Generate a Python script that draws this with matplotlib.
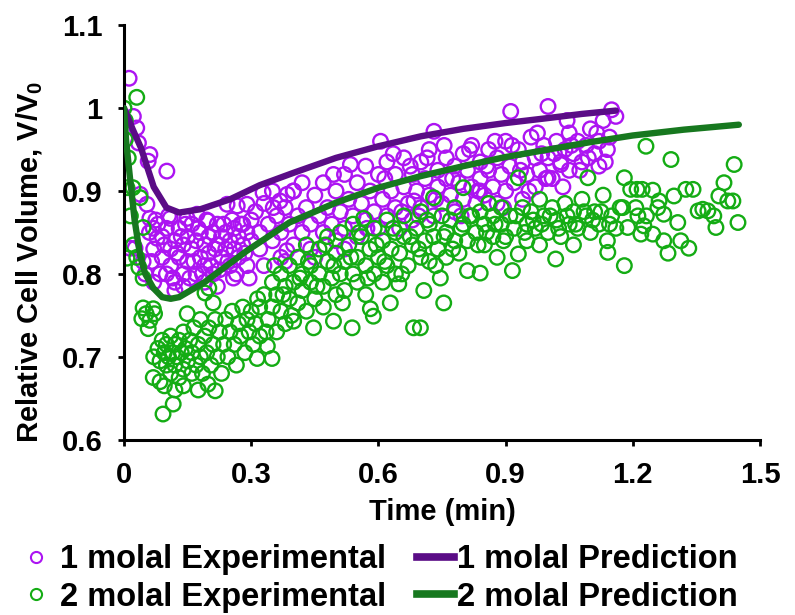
import matplotlib
matplotlib.use("Agg")
import matplotlib.pyplot as plt
from matplotlib.lines import Line2D

plt.rcParams['font.family'] = ['Liberation Sans', 'DejaVu Sans']
plt.rcParams['font.weight'] = 'bold'
plt.rcParams['mathtext.fontset'] = 'custom'
plt.rcParams['mathtext.rm'] = 'Liberation Sans:bold'
plt.rcParams['mathtext.bf'] = 'Liberation Sans:bold'
plt.rcParams['mathtext.default'] = 'bf'

# ---------------- data ----------------
pred1_t = [0.0, 0.01, 0.02, 0.04, 0.07, 0.10, 0.13, 0.18, 0.25, 0.32, 0.40, 0.50, 0.60, 0.70, 0.80, 0.90, 1.00, 1.08, 1.16]
pred1_v = [1.0, 0.988, 0.975, 0.952, 0.905, 0.880, 0.874, 0.878, 0.890, 0.907, 0.922, 0.940, 0.954, 0.966, 0.975, 0.982, 0.988, 0.993, 0.997]

pred2_t = [0.0, 0.005, 0.014, 0.025, 0.038, 0.05, 0.069, 0.09, 0.11, 0.13, 0.19, 0.29, 0.39, 0.50, 0.60, 0.70, 0.80, 0.90, 1.00, 1.10, 1.20, 1.32, 1.45]
pred2_v = [1.0, 0.96, 0.916, 0.865, 0.822, 0.800, 0.783, 0.772, 0.770, 0.772, 0.790, 0.828, 0.862, 0.886, 0.904, 0.918, 0.930, 0.941, 0.950, 0.959, 0.967, 0.974, 0.980]

exp1_t = [0.012, 0.022, 0.030, 0.034, 0.061, 0.057, 0.101, 0.038, 0.054, 0.061, 0.026, 0.069, 0.078, 0.109, 0.149, 0.172, 0.198, 0.243, 0.267, 0.290, 0.328, 0.385, 0.399, 0.368, 0.352, 0.014, 0.045,
          0.06, 0.07, 0.08, 0.09, 0.09, 0.10, 0.10, 0.11, 0.11, 0.12, 0.12, 0.13, 0.13, 0.14, 0.14, 0.15, 0.15, 0.16, 0.16, 0.17, 0.17, 0.18, 0.18, 0.19, 0.19, 0.20, 0.20, 0.21, 0.21, 0.22, 0.22, 0.23, 0.23, 0.24, 0.24, 0.25, 0.25, 0.26, 0.26, 0.27, 0.27, 0.28, 0.28, 0.29, 0.29, 0.30, 0.30,
          0.05, 0.07, 0.12, 0.14, 0.19, 0.22, 0.258,
          0.065, 0.075, 0.085, 0.095, 0.105, 0.115, 0.125, 0.135, 0.145, 0.155, 0.165, 0.175, 0.185, 0.195, 0.205, 0.215, 0.225, 0.235, 0.245, 0.255, 0.265, 0.275, 0.285, 0.295,
          0.31, 0.32, 0.32, 0.33, 0.34, 0.35, 0.35, 0.36, 0.37, 0.37, 0.38, 0.39, 0.40, 0.40, 0.41, 0.42, 0.42, 0.43, 0.44, 0.44, 0.45, 0.46, 0.47, 0.47, 0.48, 0.49, 0.50, 0.50, 0.51, 0.52, 0.52, 0.53, 0.54, 0.55, 0.55, 0.56, 0.57, 0.57, 0.58, 0.59, 0.60, 0.60,
          0.33, 0.38, 0.45, 0.52, 0.384, 0.534, 0.494, 0.573,
          0.61, 0.62, 0.62, 0.63, 0.64, 0.64, 0.65, 0.66, 0.66, 0.67, 0.68, 0.68, 0.69, 0.70, 0.70, 0.71, 0.72, 0.72, 0.73, 0.74, 0.74, 0.75, 0.76, 0.76, 0.77, 0.78, 0.78, 0.79, 0.80, 0.80, 0.81, 0.82, 0.82, 0.83, 0.84, 0.84, 0.85, 0.86, 0.86, 0.87, 0.88, 0.88, 0.89, 0.90, 0.90,
          0.731, 0.912, 0.605, 0.684, 0.84,
          0.91, 0.92, 0.93, 0.94, 0.94, 0.95, 0.96, 0.97, 0.97, 0.98, 0.99, 1.00, 1.00, 1.01, 1.02, 1.03, 1.04, 1.05, 1.05, 1.06, 1.07, 1.08, 1.09, 1.10, 1.11, 1.12, 1.13, 1.14, 1.15, 1.16, 1.12, 1.0, 1.03,
          0.615, 0.635, 0.655, 0.675, 0.695, 0.715, 0.735, 0.755, 0.775, 0.795, 0.815, 0.835, 0.855, 0.875, 0.895, 0.915, 0.935, 0.955, 0.975, 0.995, 1.015, 1.035, 1.055, 1.075, 1.095, 1.115, 1.135, 1.145, 0.985, 1.045]
exp1_v = [1.036, 0.990, 0.976, 0.958, 0.944, 0.936, 0.924, 0.896, 0.884, 0.867, 0.831, 0.855, 0.843, 0.867, 0.867, 0.872, 0.864, 0.884, 0.882, 0.884, 0.898, 0.896, 0.900, 0.888, 0.880, 0.831, 0.815,
          0.85, 0.83, 0.86, 0.82, 0.845, 0.80, 0.855, 0.83, 0.81, 0.84, 0.79, 0.82, 0.855, 0.80, 0.835, 0.845, 0.815, 0.83, 0.86, 0.80, 0.84, 0.82, 0.85, 0.835, 0.81, 0.845, 0.825, 0.85, 0.80, 0.835, 0.86, 0.82, 0.845, 0.83, 0.85, 0.81, 0.84, 0.855, 0.83, 0.845, 0.82, 0.86, 0.835, 0.85, 0.81, 0.84, 0.865,
          0.80, 0.79, 0.78, 0.785, 0.79, 0.785, 0.795,
          0.815, 0.865, 0.80, 0.835, 0.87, 0.795, 0.825, 0.845, 0.86, 0.795, 0.815, 0.855, 0.80, 0.865, 0.81, 0.83, 0.805, 0.86, 0.815, 0.865, 0.80, 0.86, 0.825, 0.795,
          0.875, 0.85, 0.83, 0.885, 0.86, 0.84, 0.90, 0.87, 0.85, 0.82, 0.88, 0.86, 0.90, 0.835, 0.87, 0.85, 0.91, 0.88, 0.86, 0.83, 0.895, 0.87, 0.85, 0.91, 0.88, 0.86, 0.90, 0.84, 0.875, 0.92, 0.855, 0.89, 0.87, 0.91, 0.845, 0.885, 0.865, 0.93, 0.90, 0.875, 0.92, 0.855,
          0.81, 0.815, 0.82, 0.83, 0.828, 0.932, 0.92, 0.855,
          0.89, 0.87, 0.935, 0.90, 0.88, 0.92, 0.855, 0.905, 0.94, 0.885, 0.92, 0.865, 0.90, 0.935, 0.88, 0.915, 0.895, 0.95, 0.87, 0.925, 0.905, 0.885, 0.94, 0.915, 0.895, 0.93, 0.875, 0.91, 0.945, 0.89, 0.925, 0.905, 0.955, 0.885, 0.935, 0.915, 0.895, 0.95, 0.925, 0.905, 0.94, 0.885, 0.92, 0.96, 0.90,
          0.972, 0.996, 0.96, 0.888, 0.90,
          0.93, 0.91, 0.95, 0.89, 0.935, 0.92, 0.965, 0.94, 0.905, 0.925, 0.955, 0.94, 1.002, 0.915, 0.96, 0.935, 0.95, 0.97, 0.925, 0.945, 0.96, 0.935, 0.955, 0.975, 0.945, 0.96, 0.985, 0.95, 0.998, 0.99, 0.93, 0.916, 0.932,
          0.915, 0.945, 0.875, 0.93, 0.87, 0.94, 0.89, 0.955, 0.915, 0.87, 0.95, 0.90, 0.93, 0.96, 0.88, 0.955, 0.925, 0.90, 0.97, 0.915, 0.945, 0.905, 0.955, 0.925, 0.94, 0.97, 0.935, 0.965, 0.945, 0.985]

exp2_t = [0.000, 0.030, 0.003, 0.003, 0.010, 0.007, 0.021, 0.038, 0.045, 0.007, 0.030, 0.035, 0.045, 0.022, 0.015,
          0.045, 0.069, 0.042, 0.061, 0.057, 0.072, 0.052,
          0.069, 0.092, 0.116, 0.215, 0.198,
          0.07, 0.08, 0.085, 0.09, 0.095, 0.10, 0.10, 0.105, 0.11, 0.11, 0.115, 0.12, 0.12, 0.125, 0.13, 0.13, 0.135, 0.14, 0.14, 0.145, 0.15, 0.155, 0.16, 0.16, 0.165, 0.17, 0.175, 0.18, 0.18, 0.185, 0.19, 0.195, 0.20, 0.205, 0.21, 0.215, 0.22, 0.225, 0.23, 0.235, 0.24, 0.245, 0.25, 0.255, 0.26, 0.265, 0.27, 0.275, 0.28, 0.285, 0.29, 0.295, 0.30, 0.305,
          0.314, 0.349, 0.338, 0.149, 0.191, 0.21, 0.085, 0.095, 0.14, 0.12, 0.175, 0.20,
          0.31, 0.32, 0.32, 0.33, 0.34, 0.35, 0.35, 0.36, 0.36, 0.37, 0.37, 0.38, 0.38, 0.39, 0.39, 0.40, 0.40, 0.41, 0.41, 0.42, 0.42, 0.43, 0.43, 0.44, 0.44, 0.45, 0.447, 0.46, 0.46, 0.47, 0.47, 0.48, 0.48, 0.49, 0.494, 0.50, 0.50,
          0.51, 0.51, 0.52, 0.52, 0.53, 0.538, 0.54, 0.54, 0.55, 0.55, 0.56, 0.565, 0.57, 0.57, 0.58, 0.581, 0.588, 0.59, 0.59, 0.60, 0.61, 0.61, 0.62, 0.62, 0.628, 0.63, 0.64, 0.64, 0.648, 0.65, 0.66, 0.66, 0.67, 0.68, 0.683, 0.69, 0.699, 0.70, 0.70,
          0.707, 0.71, 0.72, 0.72, 0.73, 0.73, 0.74, 0.746, 0.75, 0.754, 0.76, 0.76, 0.77, 0.78, 0.78, 0.79, 0.80, 0.80, 0.81, 0.81, 0.82, 0.83, 0.84, 0.84, 0.85, 0.85, 0.86, 0.87, 0.87, 0.88, 0.89, 0.89, 0.90,
          0.91, 0.916, 0.92, 0.93, 0.93, 0.94, 0.95, 0.95, 0.96, 0.97, 0.98, 0.98, 0.99, 1.00, 1.01, 1.018, 1.02, 1.03, 1.04, 1.05, 1.06, 1.06, 1.07, 1.08, 1.09, 1.094, 1.10, 1.11, 1.12, 1.13, 1.14, 1.141, 1.15, 1.16, 1.17, 1.18, 1.18,
          1.231, 1.29, 1.439, 1.415, 1.195, 1.21, 1.222, 1.247, 1.297, 1.325, 1.342, 1.403, 1.424, 1.436, 1.262, 1.259, 1.207, 1.176, 1.273, 1.354, 1.365, 1.377, 1.391, 1.212, 1.232, 1.306, 1.448, 1.188, 1.226, 1.219, 1.247, 1.396, 1.273, 1.313, 1.332, 1.283,
          0.315, 0.335, 0.355, 0.375, 0.395, 0.415, 0.435, 0.455, 0.475, 0.495, 0.515, 0.535, 0.555, 0.575, 0.595, 0.615, 0.635, 0.655, 0.675, 0.695, 0.715, 0.735, 0.755, 0.775, 0.795, 0.815, 0.835, 0.855, 0.875, 0.895, 0.925, 0.945, 0.965, 0.985, 1.005, 1.025, 1.045, 1.065, 1.085, 1.105, 1.125, 1.145]
exp2_v = [1.000, 1.013, 0.985, 0.962, 0.940, 0.904, 0.904, 0.892, 0.856, 0.819, 0.820, 0.808, 0.795, 0.835, 0.870,
          0.759, 0.758, 0.746, 0.744, 0.734, 0.752, 0.752,
          0.675, 0.631, 0.643, 0.659, 0.667,
          0.70, 0.71, 0.695, 0.72, 0.705, 0.69, 0.715, 0.70, 0.68, 0.725, 0.705, 0.69, 0.715, 0.70, 0.675, 0.72, 0.705, 0.685, 0.73, 0.71, 0.695, 0.72, 0.68, 0.705, 0.735, 0.69, 0.715, 0.70, 0.745, 0.68, 0.725, 0.705, 0.735, 0.69, 0.715, 0.745, 0.70, 0.73, 0.68, 0.715, 0.745, 0.70, 0.73, 0.755, 0.715, 0.69, 0.74, 0.725, 0.76, 0.705, 0.745, 0.73, 0.755, 0.715,
          0.698, 0.698, 0.713, 0.752, 0.777, 0.765, 0.67, 0.665, 0.665, 0.66, 0.66, 0.783,
          0.74, 0.76, 0.725, 0.775, 0.745, 0.79, 0.76, 0.73, 0.775, 0.80, 0.755, 0.785, 0.74, 0.77, 0.81, 0.79, 0.743, 0.765, 0.82, 0.80, 0.78, 0.755, 0.835, 0.79, 0.81, 0.77, 0.735, 0.80, 0.83, 0.785, 0.76, 0.815, 0.845, 0.795, 0.743, 0.775, 0.825,
          0.80, 0.85, 0.815, 0.78, 0.835, 0.735, 0.80, 0.86, 0.82, 0.79, 0.845, 0.867, 0.81, 0.775, 0.83, 0.758, 0.749, 0.855, 0.80, 0.82, 0.84, 0.79, 0.865, 0.81, 0.765, 0.83, 0.85, 0.80, 0.788, 0.825, 0.87, 0.845, 0.81, 0.835, 0.735, 0.855, 0.735, 0.82, 0.875,
          0.78, 0.84, 0.86, 0.815, 0.892, 0.845, 0.83, 0.795, 0.87, 0.765, 0.85, 0.82, 0.865, 0.84, 0.88, 0.825, 0.86, 0.904, 0.84, 0.804, 0.87, 0.85, 0.801, 0.875, 0.835, 0.86, 0.885, 0.845, 0.87, 0.82, 0.86, 0.88, 0.845,
          0.87, 0.804, 0.855, 0.916, 0.824, 0.88, 0.86, 0.84, 0.875, 0.855, 0.89, 0.835, 0.87, 0.85, 0.88, 0.818, 0.865, 0.845, 0.885, 0.86, 0.875, 0.835, 0.855, 0.89, 0.87, 0.916, 0.85, 0.875, 0.86, 0.895, 0.84, 0.826, 0.87, 0.855, 0.88, 0.916, 0.81,
          0.954, 0.938, 0.932, 0.910, 0.902, 0.902, 0.902, 0.901, 0.894, 0.902, 0.902, 0.894, 0.888, 0.888, 0.888, 0.880, 0.880, 0.880, 0.872, 0.876, 0.878, 0.876, 0.870, 0.870, 0.870, 0.862, 0.862, 0.856, 0.858, 0.848, 0.848, 0.856, 0.840, 0.840, 0.831, 0.825,
          0.77, 0.73, 0.81, 0.775, 0.75, 0.795, 0.815, 0.785, 0.835, 0.81, 0.765, 0.82, 0.85, 0.795, 0.835, 0.815, 0.855, 0.80, 0.845, 0.83, 0.865, 0.81, 0.845, 0.83, 0.855, 0.87, 0.835, 0.85, 0.86, 0.84, 0.87, 0.85, 0.865, 0.86, 0.87, 0.855, 0.87, 0.86, 0.875, 0.865, 0.875, 0.86]

x_ticks = [0, 0.3, 0.6, 0.9, 1.2, 1.5]
x_ticklabels = ['0', '0.3', '0.6', '0.9', '1.2', '1.5']
y_ticks = [0.6, 0.7, 0.8, 0.9, 1.0, 1.1]
y_ticklabels = ['0.6', '0.7', '0.8', '0.9', '1', '1.1']

# ---------------- figure ----------------
C_EXP1 = '#AC14F2'
C_EXP2 = '#14AC14'
C_PRED1 = '#5A0C86'
C_PRED2 = '#17781F'

fig = plt.figure(figsize=(7.95, 6.15), dpi=100)
ax = fig.add_axes([0.156, 0.285, 0.80, 0.674])

ax.scatter(exp1_t, exp1_v, s=110, facecolors='none', edgecolors=C_EXP1, linewidths=1.7, zorder=2)
ax.scatter(exp2_t, exp2_v, s=110, facecolors='none', edgecolors=C_EXP2, linewidths=1.7, zorder=2)
ax.plot(pred1_t, pred1_v, color=C_PRED1, lw=4.6, solid_capstyle='round', zorder=3)
ax.plot(pred2_t, pred2_v, color=C_PRED2, lw=4.6, solid_capstyle='round', zorder=3)

ax.set_xlim(0, 1.5)
ax.set_ylim(0.6, 1.1)
ax.set_xticks(x_ticks)
ax.set_xticklabels(x_ticklabels)
ax.set_yticks(y_ticks)
ax.set_yticklabels(y_ticklabels)
for s in ['top', 'right']:
    ax.spines[s].set_visible(False)
for s in ['left', 'bottom']:
    ax.spines[s].set_linewidth(2.2)
    ax.spines[s].set_color('black')
ax.tick_params(axis='both', direction='out', length=4.5, width=2, labelsize=21)
ax.tick_params(axis='x', pad=11)
ax.tick_params(axis='y', pad=11)
for lab in ax.get_xticklabels() + ax.get_yticklabels():
    lab.set_fontweight('bold')

xl = ax.set_xlabel('Time (min)', fontsize=21, fontweight='bold')
xl.set_va('center')
ax.xaxis.set_label_coords(0.5, -0.175)
yl = ax.set_ylabel(r'Relative Cell Volume, V/V$_0$', fontsize=21, fontweight='bold')
yl.set_va('center')
ax.yaxis.set_label_coords(-0.148, 0.43)

h_exp = [
    Line2D([], [], ls='none', marker='o', markersize=8, markerfacecolor='none', markeredgecolor=C_EXP1, markeredgewidth=1.5),
    Line2D([], [], ls='none', marker='o', markersize=8, markerfacecolor='none', markeredgecolor=C_EXP2, markeredgewidth=1.5),
]
h_pred = [
    Line2D([], [], color=C_PRED1, lw=5.5),
    Line2D([], [], color=C_PRED2, lw=5.5),
]
common = dict(frameon=False, prop={'weight': 'bold', 'size': 23.5}, handlelength=1.15,
              labelspacing=0.2, borderaxespad=0, borderpad=0, loc='center left')
leg1 = fig.legend(h_exp, ['1 molal Experimental', '2 molal Experimental'],
                  bbox_to_anchor=(0.022, 0.0593), handletextpad=0.15, **common)
leg2 = fig.legend(h_pred, ['1 molal Prediction', '2 molal Prediction'],
                  bbox_to_anchor=(0.524, 0.0593), handletextpad=0.1, **common)

fig.savefig('out.png', dpi=100)
